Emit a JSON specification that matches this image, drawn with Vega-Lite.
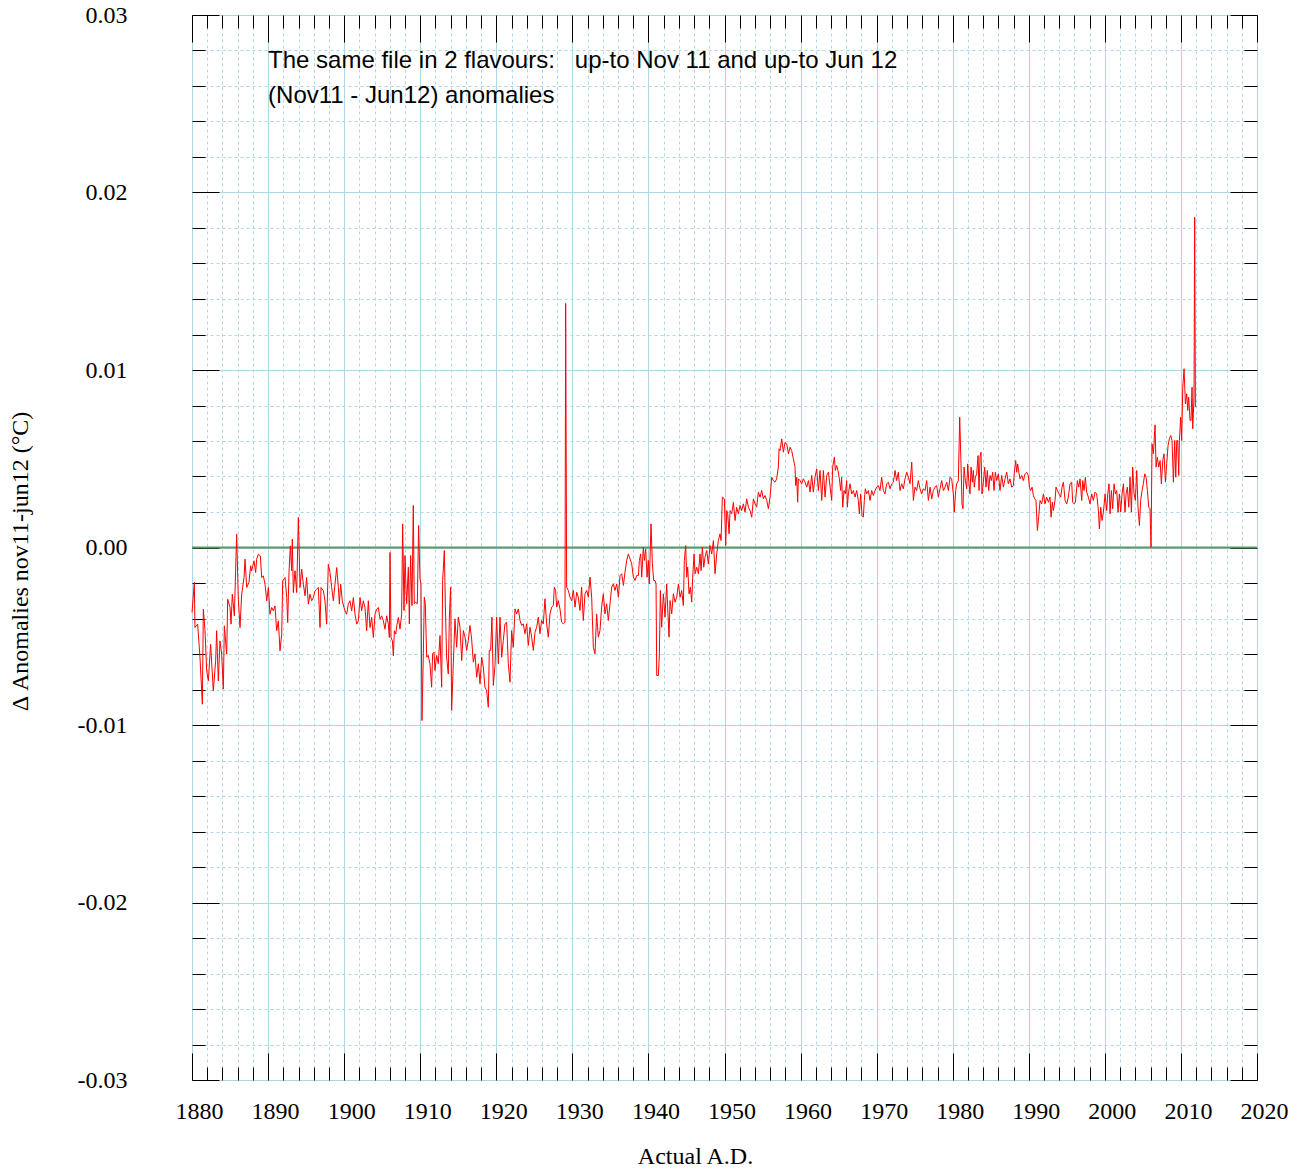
{
 "$schema": "https://vega.github.io/schema/vega-lite/v6.json",
 "width": 1065,
 "height": 1065,
 "autosize": {"type": "none"},
 "padding": {"left": 192, "top": 15, "right": 46, "bottom": 89},
 "background": "white",
 "config": {
  "view": {"stroke": "#222222", "strokeWidth": 1},
  "axis": {"labelFont": "Liberation Serif", "titleFont": "Liberation Serif", "labelFontSize": 24, "titleFontSize": 24, "titleFontWeight": "normal", "labelColor": "#000000", "titleColor": "#000000"}
 },
 "data": {"values": [
{"t":1880.00,"v":-0.00366},{"t":1880.31,"v":-0.00197},{"t":1880.39,"v":-0.00451},{"t":1880.74,"v":-0.00432},{"t":1881.05,"v":-0.00620},{"t":1881.36,"v":-0.00883},{"t":1881.49,"v":-0.00347},{"t":1881.71,"v":-0.00469},{"t":1881.93,"v":-0.00695},{"t":1882.15,"v":-0.00751},{"t":1882.45,"v":-0.00545},{"t":1882.80,"v":-0.00808},{"t":1883.11,"v":-0.00638},{"t":1883.24,"v":-0.00469},{"t":1883.46,"v":-0.00751},{"t":1883.68,"v":-0.00526},{"t":1883.90,"v":-0.00601},{"t":1884.12,"v":-0.00798},{"t":1884.25,"v":-0.00441},{"t":1884.56,"v":-0.00601},{"t":1884.69,"v":-0.00291},{"t":1885.00,"v":-0.00338},{"t":1885.13,"v":-0.00432},{"t":1885.30,"v":-0.00263},{"t":1885.57,"v":-0.00385},{"t":1885.87,"v":0.00075},{"t":1886.09,"v":-0.00291},{"t":1886.31,"v":-0.00451},{"t":1886.53,"v":-0.00263},{"t":1886.84,"v":-0.00169},{"t":1886.97,"v":-0.00066},{"t":1887.19,"v":-0.00225},{"t":1887.49,"v":-0.00197},{"t":1887.71,"v":-0.00103},{"t":1887.84,"v":-0.00131},{"t":1888.15,"v":-0.00075},{"t":1888.37,"v":-0.00141},{"t":1888.50,"v":-0.00066},{"t":1888.72,"v":-0.00038},{"t":1888.98,"v":-0.00047},{"t":1889.16,"v":-0.00169},{"t":1889.38,"v":-0.00160},{"t":1889.60,"v":-0.00207},{"t":1889.82,"v":-0.00300},{"t":1890.04,"v":-0.00225},{"t":1890.25,"v":-0.00376},{"t":1890.47,"v":-0.00338},{"t":1890.69,"v":-0.00357},{"t":1890.91,"v":-0.00329},{"t":1891.13,"v":-0.00469},{"t":1891.35,"v":-0.00413},{"t":1891.57,"v":-0.00582},{"t":1891.79,"v":-0.00488},{"t":1891.92,"v":-0.00188},{"t":1892.23,"v":-0.00169},{"t":1892.45,"v":-0.00282},{"t":1892.58,"v":-0.00423},{"t":1892.75,"v":-0.00141},{"t":1892.93,"v":0.00009},{"t":1893.10,"v":-0.00131},{"t":1893.19,"v":0.00047},{"t":1893.32,"v":-0.00254},{"t":1893.54,"v":-0.00131},{"t":1893.76,"v":-0.00254},{"t":1893.98,"v":0.00169},{"t":1894.20,"v":-0.00225},{"t":1894.42,"v":-0.00122},{"t":1894.64,"v":-0.00207},{"t":1894.86,"v":-0.00272},{"t":1895.07,"v":-0.00169},{"t":1895.29,"v":-0.00319},{"t":1895.51,"v":-0.00263},{"t":1895.73,"v":-0.00300},{"t":1895.95,"v":-0.00282},{"t":1896.17,"v":-0.00244},{"t":1896.39,"v":-0.00235},{"t":1896.61,"v":-0.00225},{"t":1896.83,"v":-0.00451},{"t":1896.96,"v":-0.00225},{"t":1897.27,"v":-0.00244},{"t":1897.48,"v":-0.00300},{"t":1897.70,"v":-0.00432},{"t":1897.92,"v":-0.00094},{"t":1898.14,"v":-0.00141},{"t":1898.36,"v":-0.00225},{"t":1898.58,"v":-0.00300},{"t":1898.80,"v":-0.00207},{"t":1899.02,"v":-0.00113},{"t":1899.24,"v":-0.00225},{"t":1899.37,"v":-0.00319},{"t":1899.54,"v":-0.00207},{"t":1899.76,"v":-0.00300},{"t":1899.98,"v":-0.00338},{"t":1900.11,"v":-0.00357},{"t":1900.33,"v":-0.00376},{"t":1900.55,"v":-0.00319},{"t":1900.77,"v":-0.00300},{"t":1900.99,"v":-0.00357},{"t":1901.21,"v":-0.00282},{"t":1901.43,"v":-0.00376},{"t":1901.65,"v":-0.00432},{"t":1901.87,"v":-0.00413},{"t":1902.09,"v":-0.00282},{"t":1902.30,"v":-0.00357},{"t":1902.52,"v":-0.00300},{"t":1902.74,"v":-0.00338},{"t":1902.96,"v":-0.00469},{"t":1903.18,"v":-0.00300},{"t":1903.40,"v":-0.00451},{"t":1903.62,"v":-0.00394},{"t":1903.84,"v":-0.00507},{"t":1904.06,"v":-0.00376},{"t":1904.28,"v":-0.00347},{"t":1904.50,"v":-0.00338},{"t":1904.72,"v":-0.00404},{"t":1904.93,"v":-0.00385},{"t":1905.15,"v":-0.00413},{"t":1905.37,"v":-0.00460},{"t":1905.59,"v":-0.00385},{"t":1905.81,"v":-0.00432},{"t":1905.94,"v":-0.00507},{"t":1906.03,"v":-0.00028},{"t":1906.16,"v":-0.00507},{"t":1906.34,"v":-0.00526},{"t":1906.47,"v":-0.00610},{"t":1906.60,"v":-0.00469},{"t":1906.78,"v":-0.00488},{"t":1906.95,"v":-0.00432},{"t":1907.13,"v":-0.00394},{"t":1907.34,"v":-0.00460},{"t":1907.56,"v":-0.00376},
{"t":1907.69,"v":0.00133},{"t":1907.87,"v":-0.00355},{"t":1908.00,"v":-0.00045},{"t":1908.13,"v":-0.00223},{"t":1908.22,"v":-0.00317},{"t":1908.44,"v":-0.00111},{"t":1908.57,"v":-0.00430},{"t":1908.74,"v":-0.00045},{"t":1908.92,"v":-0.00327},{"t":1909.09,"v":0.00237},{"t":1909.22,"v":-0.00317},{"t":1909.40,"v":-0.00308},{"t":1909.62,"v":-0.00317},{"t":1909.79,"v":0.00124},{"t":1909.97,"v":-0.00177},{"t":1910.10,"v":-0.00205},{"t":1910.23,"v":-0.00975},{"t":1910.41,"v":-0.00599},{"t":1910.54,"v":-0.00280},{"t":1910.67,"v":-0.00317},{"t":1910.85,"v":-0.00618},{"t":1911.06,"v":-0.00608},{"t":1911.28,"v":-0.00655},{"t":1911.50,"v":-0.00787},{"t":1911.63,"v":-0.00599},{"t":1911.81,"v":-0.00590},{"t":1911.94,"v":-0.00693},{"t":1912.16,"v":-0.00608},{"t":1912.38,"v":-0.00655},{"t":1912.60,"v":-0.00496},{"t":1912.82,"v":-0.00787},{"t":1912.95,"v":-0.00186},{"t":1913.17,"v":-0.00017},{"t":1913.30,"v":-0.00317},{"t":1913.47,"v":-0.00618},{"t":1913.69,"v":-0.00712},{"t":1913.83,"v":-0.00392},{"t":1914.00,"v":-0.00223},{"t":1914.13,"v":-0.00918},{"t":1914.35,"v":-0.00655},{"t":1914.57,"v":-0.00402},{"t":1914.79,"v":-0.00562},{"t":1915.01,"v":-0.00392},{"t":1915.23,"v":-0.00449},{"t":1915.45,"v":-0.00637},{"t":1915.67,"v":-0.00468},{"t":1915.89,"v":-0.00505},{"t":1916.10,"v":-0.00580},{"t":1916.32,"v":-0.00524},{"t":1916.54,"v":-0.00439},{"t":1916.76,"v":-0.00515},{"t":1916.98,"v":-0.00646},{"t":1917.20,"v":-0.00599},{"t":1917.42,"v":-0.00731},{"t":1917.64,"v":-0.00655},{"t":1917.86,"v":-0.00768},{"t":1918.08,"v":-0.00618},{"t":1918.30,"v":-0.00674},{"t":1918.51,"v":-0.00787},{"t":1918.73,"v":-0.00806},{"t":1918.95,"v":-0.00900},{"t":1919.08,"v":-0.00580},{"t":1919.26,"v":-0.00580},{"t":1919.43,"v":-0.00392},{"t":1919.61,"v":-0.00777},{"t":1919.83,"v":-0.00665},{"t":1920.05,"v":-0.00392},{"t":1920.27,"v":-0.00655},{"t":1920.49,"v":-0.00392},{"t":1920.71,"v":-0.00618},{"t":1920.92,"v":-0.00524},{"t":1921.14,"v":-0.00430},{"t":1921.36,"v":-0.00421},{"t":1921.58,"v":-0.00655},{"t":1921.80,"v":-0.00759},{"t":1922.02,"v":-0.00468},{"t":1922.24,"v":-0.00562},{"t":1922.46,"v":-0.00346},{"t":1922.68,"v":-0.00374},{"t":1922.90,"v":-0.00346},{"t":1923.12,"v":-0.00411},{"t":1923.33,"v":-0.00439},{"t":1923.55,"v":-0.00430},{"t":1923.77,"v":-0.00486},{"t":1923.99,"v":-0.00430},{"t":1924.21,"v":-0.00552},{"t":1924.43,"v":-0.00449},{"t":1924.65,"v":-0.00505},{"t":1924.87,"v":-0.00580},{"t":1925.09,"v":-0.00477},{"t":1925.31,"v":-0.00449},{"t":1925.53,"v":-0.00392},{"t":1925.74,"v":-0.00486},{"t":1925.96,"v":-0.00411},{"t":1926.18,"v":-0.00430},{"t":1926.40,"v":-0.00289},{"t":1926.62,"v":-0.00430},{"t":1926.84,"v":-0.00505},{"t":1927.06,"v":-0.00374},{"t":1927.28,"v":-0.00336},{"t":1927.50,"v":-0.00327},{"t":1927.63,"v":-0.00223},{"t":1927.80,"v":-0.00242},{"t":1927.94,"v":-0.00336},{"t":1928.15,"v":-0.00299},{"t":1928.37,"v":-0.00346},{"t":1928.59,"v":-0.00421},{"t":1928.81,"v":-0.00430},{"t":1929.03,"v":-0.00421},{"t":1929.12,"v":0.01375},{"t":1929.25,"v":-0.00223},{"t":1929.47,"v":-0.00242},{"t":1929.69,"v":-0.00280},{"t":1929.91,"v":-0.00299},{"t":1930.13,"v":-0.00242},{"t":1930.35,"v":-0.00336},{"t":1930.57,"v":-0.00252},{"t":1930.78,"v":-0.00280},{"t":1931.00,"v":-0.00355},{"t":1931.22,"v":-0.00223},{"t":1931.44,"v":-0.00411},{"t":1931.66,"v":-0.00261},{"t":1931.88,"v":-0.00242},{"t":1932.10,"v":-0.00280},{"t":1932.32,"v":-0.00167},{"t":1932.54,"v":-0.00280},{"t":1932.76,"v":-0.00562},{"t":1932.98,"v":-0.00599},{"t":1933.19,"v":-0.00374},{"t":1933.41,"v":-0.00505},{"t":1933.63,"v":-0.00468},{"t":1933.85,"v":-0.00336},{"t":1934.07,"v":-0.00261},{"t":1934.29,"v":-0.00374},{"t":1934.51,"v":-0.00317},{"t":1934.73,"v":-0.00411},{"t":1934.95,"v":-0.00317},{"t":1935.17,"v":-0.00223},{"t":1935.39,"v":-0.00205},{"t":1935.60,"v":-0.00242},
{"t":1935.83,"v":-0.00205},{"t":1936.05,"v":-0.00280},{"t":1936.27,"v":-0.00158},{"t":1936.49,"v":-0.00148},{"t":1936.71,"v":-0.00214},{"t":1936.92,"v":-0.00139},{"t":1937.14,"v":-0.00073},{"t":1937.36,"v":-0.00036},{"t":1937.58,"v":-0.00064},{"t":1937.80,"v":-0.00092},{"t":1938.02,"v":-0.00167},{"t":1938.24,"v":-0.00186},{"t":1938.46,"v":-0.00158},{"t":1938.68,"v":-0.00158},{"t":1938.81,"v":-0.00073},{"t":1938.98,"v":-0.00036},{"t":1939.12,"v":-0.00167},{"t":1939.33,"v":0.00002},{"t":1939.47,"v":-0.00073},{"t":1939.64,"v":-0.00008},{"t":1939.82,"v":-0.00167},{"t":1939.99,"v":-0.00073},{"t":1940.12,"v":-0.00205},{"t":1940.25,"v":0.00002},{"t":1940.34,"v":0.00133},{"t":1940.52,"v":-0.00092},{"t":1940.69,"v":-0.00186},{"t":1940.87,"v":-0.00186},{"t":1941.00,"v":-0.00205},{"t":1941.09,"v":-0.00721},{"t":1941.31,"v":-0.00721},{"t":1941.44,"v":-0.00599},{"t":1941.57,"v":-0.00242},{"t":1941.74,"v":-0.00449},{"t":1941.96,"v":-0.00261},{"t":1942.18,"v":-0.00392},{"t":1942.40,"v":-0.00205},{"t":1942.53,"v":-0.00336},{"t":1942.71,"v":-0.00505},{"t":1942.84,"v":-0.00299},{"t":1943.06,"v":-0.00374},{"t":1943.28,"v":-0.00261},{"t":1943.50,"v":-0.00308},{"t":1943.72,"v":-0.00280},{"t":1943.94,"v":-0.00205},{"t":1944.16,"v":-0.00280},{"t":1944.37,"v":-0.00242},{"t":1944.59,"v":-0.00327},{"t":1944.72,"v":-0.00073},{"t":1944.90,"v":0.00011},{"t":1945.03,"v":-0.00167},{"t":1945.16,"v":-0.00111},{"t":1945.34,"v":-0.00261},{"t":1945.51,"v":-0.00223},{"t":1945.69,"v":-0.00308},{"t":1945.82,"v":-0.00167},{"t":1946.00,"v":-0.00036},{"t":1946.13,"v":-0.00148},{"t":1946.35,"v":-0.00111},{"t":1946.57,"v":-0.00148},{"t":1946.78,"v":-0.00036},{"t":1946.92,"v":-0.00130},{"t":1947.09,"v":0.00002},{"t":1947.27,"v":-0.00111},{"t":1947.44,"v":-0.00054},{"t":1947.66,"v":-0.00017},{"t":1947.88,"v":-0.00092},{"t":1948.10,"v":0.00011},{"t":1948.32,"v":-0.00036},{"t":1948.54,"v":0.00039},{"t":1948.76,"v":-0.00148},{"t":1948.98,"v":-0.00036},{"t":1949.19,"v":0.00039},{"t":1949.41,"v":0.00077},{"t":1949.55,"v":0.00039},{"t":1949.72,"v":0.00284},{"t":1949.98,"v":0.00274},{"t":1950.16,"v":0.00011},{"t":1950.29,"v":0.00208},{"t":1950.42,"v":0.00190},{"t":1950.60,"v":0.00077},{"t":1950.73,"v":0.00208},{"t":1950.95,"v":0.00190},{"t":1951.17,"v":0.00255},{"t":1951.39,"v":0.00152},{"t":1951.60,"v":0.00227},{"t":1951.82,"v":0.00190},{"t":1952.04,"v":0.00237},{"t":1952.26,"v":0.00208},{"t":1952.48,"v":0.00246},{"t":1952.70,"v":0.00199},{"t":1952.92,"v":0.00274},{"t":1953.14,"v":0.00227},{"t":1953.36,"v":0.00208},{"t":1953.58,"v":0.00171},{"t":1953.80,"v":0.00274},{"t":1954.01,"v":0.00246},{"t":1954.23,"v":0.00227},{"t":1954.45,"v":0.00312},{"t":1954.67,"v":0.00284},{"t":1954.89,"v":0.00321},{"t":1955.11,"v":0.00274},{"t":1955.33,"v":0.00293},{"t":1955.55,"v":0.00265},{"t":1955.77,"v":0.00218},{"t":1955.99,"v":0.00284},{"t":1956.21,"v":0.00396},{"t":1956.42,"v":0.00377},{"t":1956.64,"v":0.00368},{"t":1956.86,"v":0.00387},{"t":1957.08,"v":0.00453},{"t":1957.17,"v":0.00556},{"t":1957.30,"v":0.00546},{"t":1957.52,"v":0.00612},{"t":1957.74,"v":0.00537},{"t":1957.96,"v":0.00593},{"t":1958.18,"v":0.00584},{"t":1958.40,"v":0.00528},{"t":1958.62,"v":0.00565},{"t":1958.83,"v":0.00546},{"t":1959.05,"v":0.00500},{"t":1959.27,"v":0.00453},{"t":1959.36,"v":0.00349},{"t":1959.49,"v":0.00396},{"t":1959.62,"v":0.00255},{"t":1959.71,"v":0.00387},{"t":1959.93,"v":0.00377},{"t":1960.15,"v":0.00359},{"t":1960.37,"v":0.00387},{"t":1960.59,"v":0.00368},{"t":1960.81,"v":0.00340},{"t":1961.03,"v":0.00377},{"t":1961.25,"v":0.00312},{"t":1961.46,"v":0.00406},{"t":1961.68,"v":0.00312},{"t":1961.90,"v":0.00396},{"t":1962.12,"v":0.00443},{"t":1962.34,"v":0.00321},{"t":1962.56,"v":0.00434},{"t":1962.78,"v":0.00265},{"t":1963.00,"v":0.00434},{"t":1963.22,"v":0.00284},{"t":1963.44,"v":0.00406},{"t":1963.66,"v":0.00424},
{"t":1964.09,"v":0.00265},{"t":1964.22,"v":0.00453},{"t":1964.44,"v":0.00509},{"t":1964.57,"v":0.00434},{"t":1964.75,"v":0.00462},{"t":1964.92,"v":0.00434},{"t":1965.10,"v":0.00387},{"t":1965.27,"v":0.00321},{"t":1965.40,"v":0.00396},{"t":1965.54,"v":0.00227},{"t":1965.71,"v":0.00321},{"t":1965.89,"v":0.00302},{"t":1966.06,"v":0.00377},{"t":1966.15,"v":0.00227},{"t":1966.28,"v":0.00302},{"t":1966.50,"v":0.00359},{"t":1966.72,"v":0.00302},{"t":1966.94,"v":0.00321},{"t":1967.16,"v":0.00284},{"t":1967.38,"v":0.00321},{"t":1967.59,"v":0.00265},{"t":1967.73,"v":0.00190},{"t":1967.90,"v":0.00302},{"t":1968.08,"v":0.00180},{"t":1968.25,"v":0.00171},{"t":1968.38,"v":0.00265},{"t":1968.51,"v":0.00331},{"t":1968.69,"v":0.00302},{"t":1968.91,"v":0.00321},{"t":1969.13,"v":0.00265},{"t":1969.35,"v":0.00321},{"t":1969.57,"v":0.00293},{"t":1969.79,"v":0.00321},{"t":1970.00,"v":0.00340},{"t":1970.22,"v":0.00349},{"t":1970.44,"v":0.00321},{"t":1970.66,"v":0.00396},{"t":1970.88,"v":0.00321},{"t":1971.10,"v":0.00302},{"t":1971.32,"v":0.00359},{"t":1971.54,"v":0.00368},{"t":1971.76,"v":0.00331},{"t":1971.98,"v":0.00359},{"t":1972.20,"v":0.00368},{"t":1972.42,"v":0.00434},{"t":1972.63,"v":0.00377},{"t":1972.85,"v":0.00424},{"t":1973.07,"v":0.00321},{"t":1973.29,"v":0.00359},{"t":1973.51,"v":0.00331},{"t":1973.73,"v":0.00387},{"t":1973.95,"v":0.00424},{"t":1974.17,"v":0.00396},{"t":1974.39,"v":0.00359},{"t":1974.61,"v":0.00481},{"t":1974.83,"v":0.00265},{"t":1975.04,"v":0.00340},{"t":1975.26,"v":0.00321},{"t":1975.48,"v":0.00377},{"t":1975.70,"v":0.00331},{"t":1975.92,"v":0.00302},{"t":1976.14,"v":0.00331},{"t":1976.36,"v":0.00321},{"t":1976.58,"v":0.00377},{"t":1976.80,"v":0.00265},{"t":1977.02,"v":0.00340},{"t":1977.24,"v":0.00274},{"t":1977.45,"v":0.00321},{"t":1977.67,"v":0.00340},{"t":1977.89,"v":0.00349},{"t":1978.11,"v":0.00284},{"t":1978.33,"v":0.00331},{"t":1978.55,"v":0.00377},{"t":1978.77,"v":0.00321},{"t":1978.99,"v":0.00340},{"t":1979.21,"v":0.00368},{"t":1979.43,"v":0.00321},{"t":1979.65,"v":0.00396},{"t":1979.86,"v":0.00387},{"t":1980.08,"v":0.00302},{"t":1980.21,"v":0.00199},{"t":1980.39,"v":0.00321},{"t":1980.52,"v":0.00359},{"t":1980.74,"v":0.00377},{"t":1980.92,"v":0.00734},{"t":1981.09,"v":0.00471},{"t":1981.22,"v":0.00246},{"t":1981.35,"v":0.00218},{"t":1981.49,"v":0.00453},{"t":1981.66,"v":0.00377},{"t":1981.84,"v":0.00331},{"t":1981.97,"v":0.00471},{"t":1982.14,"v":0.00359},{"t":1982.27,"v":0.00302},{"t":1982.41,"v":0.00453},{"t":1982.58,"v":0.00368},{"t":1982.71,"v":0.00434},{"t":1982.84,"v":0.00340},{"t":1982.98,"v":0.00396},{"t":1983.15,"v":0.00415},{"t":1983.33,"v":0.00518},{"t":1983.46,"v":0.00321},{"t":1983.59,"v":0.00509},{"t":1983.72,"v":0.00537},{"t":1983.85,"v":0.00302},{"t":1984.03,"v":0.00368},{"t":1984.20,"v":0.00453},{"t":1984.38,"v":0.00340},{"t":1984.55,"v":0.00434},{"t":1984.73,"v":0.00321},{"t":1984.90,"v":0.00406},{"t":1985.08,"v":0.00377},{"t":1985.25,"v":0.00424},{"t":1985.43,"v":0.00321},{"t":1985.60,"v":0.00424},{"t":1985.78,"v":0.00377},{"t":1986.00,"v":0.00415},{"t":1986.22,"v":0.00321},{"t":1986.44,"v":0.00406},{"t":1986.66,"v":0.00340},{"t":1986.88,"v":0.00387},{"t":1987.10,"v":0.00424},{"t":1987.31,"v":0.00359},{"t":1987.53,"v":0.00387},{"t":1987.75,"v":0.00340},{"t":1987.97,"v":0.00349},{"t":1988.10,"v":0.00424},{"t":1988.28,"v":0.00490},{"t":1988.41,"v":0.00424},{"t":1988.54,"v":0.00471},{"t":1988.72,"v":0.00415},{"t":1988.85,"v":0.00387},{"t":1989.07,"v":0.00406},{"t":1989.29,"v":0.00377},{"t":1989.51,"v":0.00415},{"t":1989.72,"v":0.00424},{"t":1989.94,"v":0.00406},{"t":1990.08,"v":0.00340},{"t":1990.25,"v":0.00321},{"t":1990.43,"v":0.00340},{"t":1990.60,"v":0.00293},{"t":1990.78,"v":0.00274},{"t":1990.95,"v":0.00265},{"t":1991.13,"v":0.00096},{"t":1991.30,"v":0.00171},{"t":1991.48,"v":0.00265},{"t":1991.70,"v":0.00246},{"t":1991.92,"v":0.00302},{"t":1992.13,"v":0.00246},{"t":1992.35,"v":0.00284},
{"t":1992.58,"v":0.00255},{"t":1992.79,"v":0.00284},{"t":1992.93,"v":0.00171},{"t":1993.10,"v":0.00255},{"t":1993.23,"v":0.00208},{"t":1993.45,"v":0.00265},{"t":1993.58,"v":0.00340},{"t":1993.76,"v":0.00321},{"t":1993.98,"v":0.00302},{"t":1994.20,"v":0.00284},{"t":1994.37,"v":0.00340},{"t":1994.55,"v":0.00368},{"t":1994.77,"v":0.00265},{"t":1994.99,"v":0.00246},{"t":1995.20,"v":0.00284},{"t":1995.42,"v":0.00359},{"t":1995.64,"v":0.00368},{"t":1995.77,"v":0.00255},{"t":1995.95,"v":0.00246},{"t":1996.13,"v":0.00255},{"t":1996.39,"v":0.00377},{"t":1996.56,"v":0.00340},{"t":1996.74,"v":0.00387},{"t":1996.96,"v":0.00265},{"t":1997.09,"v":0.00377},{"t":1997.26,"v":0.00321},{"t":1997.44,"v":0.00396},{"t":1997.61,"v":0.00312},{"t":1997.83,"v":0.00284},{"t":1998.05,"v":0.00246},{"t":1998.27,"v":0.00302},{"t":1998.49,"v":0.00265},{"t":1998.71,"v":0.00312},{"t":1998.93,"v":0.00302},{"t":1999.15,"v":0.00208},{"t":1999.28,"v":0.00105},{"t":1999.46,"v":0.00227},{"t":1999.63,"v":0.00152},{"t":1999.81,"v":0.00199},{"t":2000.03,"v":0.00302},{"t":2000.24,"v":0.00208},{"t":2000.38,"v":0.00302},{"t":2000.55,"v":0.00359},{"t":2000.68,"v":0.00190},{"t":2000.86,"v":0.00321},{"t":2001.03,"v":0.00218},{"t":2001.21,"v":0.00359},{"t":2001.38,"v":0.00302},{"t":2001.56,"v":0.00321},{"t":2001.73,"v":0.00199},{"t":2001.91,"v":0.00302},{"t":2002.08,"v":0.00199},{"t":2002.26,"v":0.00302},{"t":2002.44,"v":0.00359},{"t":2002.65,"v":0.00199},{"t":2002.79,"v":0.00302},{"t":2002.96,"v":0.00340},{"t":2003.14,"v":0.00227},{"t":2003.31,"v":0.00396},{"t":2003.49,"v":0.00199},{"t":2003.66,"v":0.00453},{"t":2003.84,"v":0.00302},{"t":2004.01,"v":0.00265},{"t":2004.19,"v":0.00434},{"t":2004.36,"v":0.00227},{"t":2004.54,"v":0.00124},{"t":2004.71,"v":0.00265},{"t":2004.89,"v":0.00321},{"t":2005.06,"v":0.00359},{"t":2005.24,"v":0.00415},{"t":2005.42,"v":0.00396},{"t":2005.59,"v":0.00321},{"t":2005.77,"v":0.00227},{"t":2005.94,"v":0.00218},{"t":2006.07,"v":0.00002},{"t":2006.20,"v":0.00584},{"t":2006.38,"v":0.00528},{"t":2006.60,"v":0.00691},{"t":2006.73,"v":0.00453},{"t":2006.90,"v":0.00509},{"t":2007.08,"v":0.00453},{"t":2007.26,"v":0.00490},{"t":2007.43,"v":0.00359},{"t":2007.61,"v":0.00490},{"t":2007.78,"v":0.00528},{"t":2007.96,"v":0.00368},{"t":2008.13,"v":0.00471},{"t":2008.31,"v":0.00575},{"t":2008.48,"v":0.00612},{"t":2008.66,"v":0.00631},{"t":2008.83,"v":0.00603},{"t":2009.01,"v":0.00368},{"t":2009.18,"v":0.00603},{"t":2009.32,"v":0.00396},{"t":2009.45,"v":0.00603},{"t":2009.58,"v":0.00603},{"t":2009.71,"v":0.00406},{"t":2009.80,"v":0.00603},{"t":2009.97,"v":0.00734},{"t":2010.10,"v":0.00603},{"t":2010.24,"v":0.00903},{"t":2010.41,"v":0.01007},{"t":2010.59,"v":0.00809},{"t":2010.76,"v":0.00866},{"t":2010.89,"v":0.00772},{"t":2011.02,"v":0.00847},{"t":2011.20,"v":0.00716},{"t":2011.33,"v":0.00716},{"t":2011.46,"v":0.00903},{"t":2011.55,"v":0.00669},{"t":2011.72,"v":0.00847},{"t":2011.81,"v":0.01861},{"t":2011.90,"v":0.00791}
 ]},
 "resolve": {"axis": {"x": "independent", "y": "independent"}},
 "layer": [
  {
   "mark": {"type": "line", "opacity": 0},
   "encoding": {
    "x": {"field": "t", "type": "quantitative",
     "scale": {"domain": [1880, 2020], "nice": false, "zero": false},
     "axis": {"orient": "bottom", "title": null, "labels": false, "domain": false,
      "values": [1880,1882,1884,1886,1888,1890,1892,1894,1896,1898,1900,1902,1904,1906,1908,1910,1912,1914,1916,1918,1920,1922,1924,1926,1928,1930,1932,1934,1936,1938,1940,1942,1944,1946,1948,1950,1952,1954,1956,1958,1960,1962,1964,1966,1968,1970,1972,1974,1976,1978,1980,1982,1984,1986,1988,1990,1992,1994,1996,1998,2000,2002,2004,2006,2008,2010,2012,2014,2016,2018,2020],
      "grid": true, "gridColor": "#add8e6", "gridWidth": 1,
      "gridDash": {"condition": {"test": "datum.value % 10 === 0", "value": []}, "value": [3, 3]},
      "ticks": true, "tickColor": "#000000", "tickWidth": 1,
      "tickSize": {"condition": {"test": "datum.value % 10 === 0", "value": -27}, "value": -13}}},
    "y": {"field": "v", "type": "quantitative",
     "scale": {"domain": [-0.03, 0.03], "nice": false, "zero": false},
     "axis": {"orient": "left", "title": null, "labels": false, "domain": false,
      "values": [-0.03,-0.028,-0.026,-0.024,-0.022,-0.02,-0.018,-0.016,-0.014,-0.012,-0.01,-0.008,-0.006,-0.004,-0.002,0,0.002,0.004,0.006,0.008,0.01,0.012,0.014,0.016,0.018,0.02,0.022,0.024,0.026,0.028,0.03],
      "grid": true, "gridColor": "#add8e6", "gridWidth": 1,
      "gridDash": {"condition": {"test": "abs(datum.value * 100 - round(datum.value * 100)) < 0.01", "value": []}, "value": [3, 3]},
      "ticks": true, "tickColor": "#000000", "tickWidth": 1,
      "tickSize": {"condition": {"test": "abs(datum.value * 100 - round(datum.value * 100)) < 0.01", "value": -27}, "value": -13}}}
   }
  },
  {
   "mark": {"type": "line", "opacity": 0},
   "encoding": {
    "x": {"field": "t", "type": "quantitative",
     "scale": {"domain": [1880, 2020], "nice": false, "zero": false},
     "axis": {"orient": "top", "title": null, "labels": false, "domain": false, "grid": false,
      "values": [1880,1882,1884,1886,1888,1890,1892,1894,1896,1898,1900,1902,1904,1906,1908,1910,1912,1914,1916,1918,1920,1922,1924,1926,1928,1930,1932,1934,1936,1938,1940,1942,1944,1946,1948,1950,1952,1954,1956,1958,1960,1962,1964,1966,1968,1970,1972,1974,1976,1978,1980,1982,1984,1986,1988,1990,1992,1994,1996,1998,2000,2002,2004,2006,2008,2010,2012,2014,2016,2018,2020],
      "ticks": true, "tickColor": "#000000", "tickWidth": 1,
      "tickSize": {"condition": {"test": "datum.value % 10 === 0", "value": -27}, "value": -13}}},
    "y": {"field": "v", "type": "quantitative",
     "scale": {"domain": [-0.03, 0.03], "nice": false, "zero": false},
     "axis": {"orient": "right", "title": null, "labels": false, "domain": false, "grid": false,
      "values": [-0.03,-0.028,-0.026,-0.024,-0.022,-0.02,-0.018,-0.016,-0.014,-0.012,-0.01,-0.008,-0.006,-0.004,-0.002,0,0.002,0.004,0.006,0.008,0.01,0.012,0.014,0.016,0.018,0.02,0.022,0.024,0.026,0.028,0.03],
      "ticks": true, "tickColor": "#000000", "tickWidth": 1,
      "tickSize": {"condition": {"test": "abs(datum.value * 100 - round(datum.value * 100)) < 0.01", "value": -27}, "value": -13}}}
   }
  },
  {
   "data": {"values": [{"zero": 0}]},
   "mark": {"type": "rule", "color": "#5a9a62", "strokeWidth": 2},
   "encoding": {"y": {"field": "zero", "type": "quantitative", "scale": {"domain": [-0.03, 0.03], "nice": false, "zero": false}, "axis": null}}
  },
  {
   "mark": {"type": "line", "color": "#ff0000", "strokeWidth": 1},
   "encoding": {
    "x": {"field": "t", "type": "quantitative",
     "scale": {"domain": [1880, 2020], "nice": false, "zero": false},
     "axis": {"orient": "bottom", "title": "Actual A.D.", "values": [1880,1890,1900,1910,1920,1930,1940,1950,1960,1970,1980,1990,2000,2010,2020],
      "format": "d", "ticks": false, "domain": false, "grid": false, "labelFlush": false, "labelOverlap": false, "labelBound": false,
      "labelBaseline": "alphabetic", "labelPadding": 38, "labelOffset": 7,
      "titleX": 503, "titleY": 83, "titleBaseline": "alphabetic", "titleAlign": "center"}},
    "y": {"field": "v", "type": "quantitative",
     "scale": {"domain": [-0.03, 0.03], "nice": false, "zero": false},
     "axis": {"orient": "left", "title": "Δ Anomalies nov11-jun12 (°C)", "values": [-0.03,-0.02,-0.01,0,0.01,0.02,0.03],
      "labelExpr": "replace(format(datum.value, '.2f'), '\u2212', '-')",
      "ticks": false, "domain": false, "grid": false, "labelFlush": false, "labelOverlap": false, "labelBound": false,
      "labelPadding": 65, "labelBaseline": "middle",
      "titleX": -165, "titleY": 546, "titleAngle": -90, "titleBaseline": "alphabetic", "titleAlign": "center"}}
   }
  },
  {
   "data": {"values": [{"t": 1890, "v": 0.02704, "label": "The same file in 2 flavours:\u00a0\u00a0 up-to Nov 11 and up-to Jun 12"}, {"t": 1890, "v": 0.02507, "label": "(Nov11 - Jun12) anomalies"}]},
   "mark": {"type": "text", "font": "Liberation Sans", "fontSize": 24, "align": "left", "baseline": "alphabetic", "color": "#000000"},
   "encoding": {
    "x": {"field": "t", "type": "quantitative", "scale": {"domain": [1880, 2020], "nice": false, "zero": false}, "axis": null},
    "y": {"field": "v", "type": "quantitative", "scale": {"domain": [-0.03, 0.03], "nice": false, "zero": false}, "axis": null},
    "text": {"field": "label", "type": "nominal"}
   }
  }
 ]
}
